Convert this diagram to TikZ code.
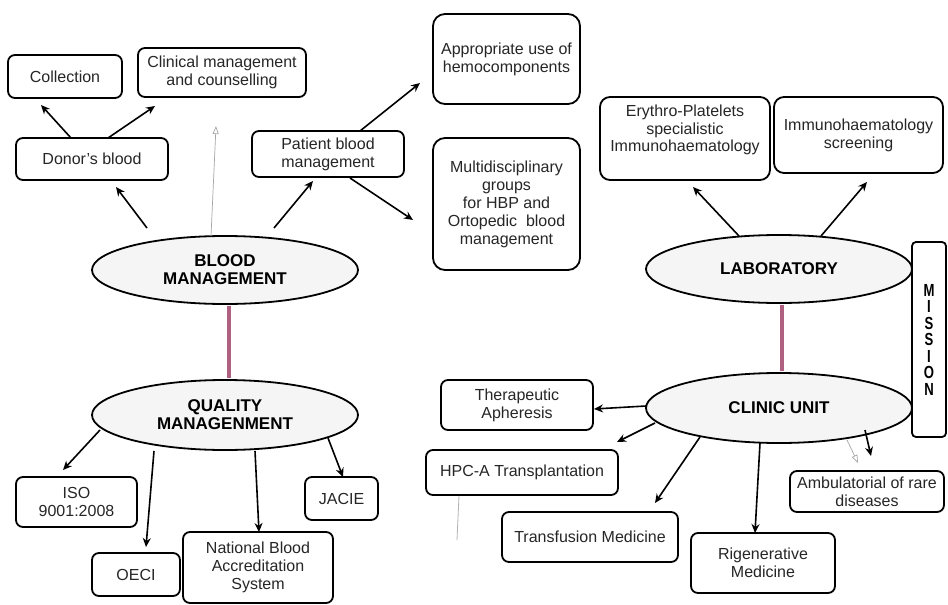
\documentclass[tikz,border=0pt]{standalone}
\usepackage{fontspec}
\setmainfont{Liberation Sans}
\usetikzlibrary{arrows.meta,shapes.geometric}
\definecolor{pinkl}{RGB}{176,96,128}
\begin{document}
\begin{tikzpicture}[x=1pt,y=-1pt,
  box/.style={draw, line width=1.8pt, rounded corners=7pt, fill=white, align=center,
    font=\fontsize{16}{18}\selectfont, text=black!85, inner sep=2pt},
  txt/.style={align=center, font=\fontsize{16}{17.5}\selectfont, text=black!85, inner sep=0pt},
  oval/.style={ellipse, draw, line width=1.8pt, fill=black!4, align=center,
    font=\bfseries\fontsize{17}{18}\selectfont, inner sep=1pt},
  arr/.style={line width=1.6pt, -{Stealth[length=9pt,width=8pt]}},
  ghost/.style={draw=black!35, line width=0.7pt, -{Triangle[open,length=8pt,width=6pt]}},
  pinkline/.style={draw=pinkl, line width=3.5pt}]
\fill[white] (0,0) rectangle (948,605);
\useasboundingbox (0,0) rectangle (948,605);

% ---- Blood management branch
\node[box, minimum width=114pt, minimum height=43pt] (coll) at (65,76.5) {Collection};
\node[box, minimum width=168pt, minimum height=49pt] (clin) at (222,72.5) {Clinical management\\and counselling};
\node[box, minimum width=152pt, minimum height=42pt] (donor) at (92,159) {Donor's blood};
\node[box, minimum width=152pt, minimum height=46pt] (pbm) at (328,154) {Patient blood\\management};
\node[box, rounded corners=12pt, minimum width=147pt, minimum height=90pt] (appr) at (506.5,59) {Appropriate use of\\hemocomponents};
\node[box, rounded corners=12pt, minimum width=147pt, minimum height=132pt] (multi) at (506.5,204) {Multidisciplinary\\groups\\for HBP and\\Ortopedic\ \ blood\\management};
\node[oval, minimum width=266pt, minimum height=68pt] (bm) at (225,270) {BLOOD\\MANAGEMENT};

% ---- Laboratory branch
\node[box, rounded corners=10pt, minimum width=170pt, minimum height=83pt] (ery) at (685,138.5) {};
\node[txt] (eryt) at (685,130) {Erythro-Platelets\\specialistic\\Immunohaematology};
\node[box, rounded corners=10pt, minimum width=169pt, minimum height=76pt] (scr) at (858.5,135) {Immunohaematology\\screening};
\node[oval, minimum width=266pt, minimum height=68pt] (lab) at (779,269) {LABORATORY};

% ---- Mission
\node[box, rounded corners=4pt, minimum width=34pt, minimum height=195pt] (miss) at (929,339.5) {};
\node[inner sep=0pt, font=\bfseries\fontsize{17.5}{14.3}\selectfont] (misst) at (929,342)
  {\scalebox{0.75}[1]{\begin{tabular}{@{}c@{}}M\\I\\S\\S\\I\\O\\N\end{tabular}}};

% ---- Clinic unit
\node[oval, minimum width=266pt, minimum height=70pt] (clinic) at (779,408) {CLINIC UNIT};
\node[box, minimum width=152pt, minimum height=50pt] (ther) at (517,405) {Therapeutic\\Apheresis};
\node[box, minimum width=192pt, minimum height=45pt] (hpc) at (522,472.5) {HPC-A Transplantation};
\node[box, minimum width=176pt, minimum height=50pt] (trans) at (590,537) {Transfusion Medicine};
\node[box, minimum width=144pt, minimum height=60pt] (rig) at (763,563) {Rigenerative\\Medicine};
\node[box, minimum width=154pt, minimum height=41pt] (amb) at (867,491.5) {Ambulatorial of rare\\diseases};

% ---- Quality management
\node[oval, minimum width=266pt, minimum height=70pt] (qm) at (225,415) {QUALITY\\MANAGENMENT};
\node[box, minimum width=121pt, minimum height=50pt] (iso) at (76.5,502) {ISO\\9001:2008};
\node[box, minimum width=88pt, minimum height=43pt] (oeci) at (136,574.5) {OECI};
\node[box, minimum width=150pt, minimum height=71pt] (nbas) at (258,567.5) {National Blood\\Accreditation\\System};
\node[box, minimum width=73pt, minimum height=43pt] (jacie) at (341.5,498.5) {JACIE};

% ---- connector end points
\coordinate (bmDs) at (147,228);  \coordinate (bmDe) at (116,187);
\coordinate (dCs) at (71,138);    \coordinate (dCe) at (41,105);
\coordinate (dKs) at (108,138);   \coordinate (dKe) at (155,106);
\coordinate (bmPs) at (274,228);  \coordinate (bmPe) at (313,181);
\coordinate (pAs) at (360,131);   \coordinate (pAe) at (420,83);
\coordinate (pMs) at (350,178);   \coordinate (pMe) at (413,220);
\coordinate (g1s) at (211,236);   \coordinate (g1e) at (216,126);
\coordinate (lEs) at (739,236);   \coordinate (lEe) at (693,187);
\coordinate (lSs) at (821,236);   \coordinate (lSe) at (867,182);
\coordinate (cTs) at (646,406);   \coordinate (cTe) at (594,409);
\coordinate (cHs) at (655,423);   \coordinate (cHe) at (617,442);
\coordinate (cFs) at (700,437);   \coordinate (cFe) at (655,503);
\coordinate (cRs) at (760,443);   \coordinate (cRe) at (755,533);
\coordinate (cAs) at (865,430);   \coordinate (cAe) at (871,456);
\coordinate (g2s) at (847,440);   \coordinate (g2e) at (858,463);
\coordinate (qIs) at (100,430);   \coordinate (qIe) at (63,470);
\coordinate (qOs) at (154,451);   \coordinate (qOe) at (146,547);
\coordinate (qNs) at (255,451);   \coordinate (qNe) at (259,532);
\coordinate (qJs) at (328,438);   \coordinate (qJe) at (343,477);
\coordinate (hpcL) at (457,540);

% ---- connectors
\draw[arr] (bmDs) -- (bmDe);
\draw[arr] (dCs) -- (dCe);
\draw[arr] (dKs) -- (dKe);
\draw[arr] (bmPs) -- (bmPe);
\draw[arr] (pAs) -- (pAe);
\draw[arr] (pMs) -- (pMe);
\draw[ghost] (g1s) -- (g1e);
\draw[arr] (lEs) -- (lEe);
\draw[arr] (lSs) -- (lSe);
\draw[pinkline] ([xshift=4pt,yshift=-1pt]bm.south) -- ([xshift=4pt,yshift=1pt]qm.north);
\draw[pinkline] ([xshift=3pt,yshift=-1pt]lab.south) -- ([xshift=3pt,yshift=1pt]clinic.north);
\draw[arr] (cTs) -- (cTe);
\draw[arr] (cHs) -- (cHe);
\draw[arr] (cFs) -- (cFe);
\draw[arr] (cRs) -- (cRe);
\draw[arr] (cAs) -- (cAe);
\draw[ghost] (g2s) -- (g2e);
\draw[arr] (qIs) -- (qIe);
\draw[arr] (qOs) -- (qOe);
\draw[arr] (qNs) -- (qNe);
\draw[arr] (qJs) -- (qJe);
\draw[draw=black!30, line width=0.8pt] ([xshift=-63pt]hpc.south) -- (hpcL);
\end{tikzpicture}
\end{document}
